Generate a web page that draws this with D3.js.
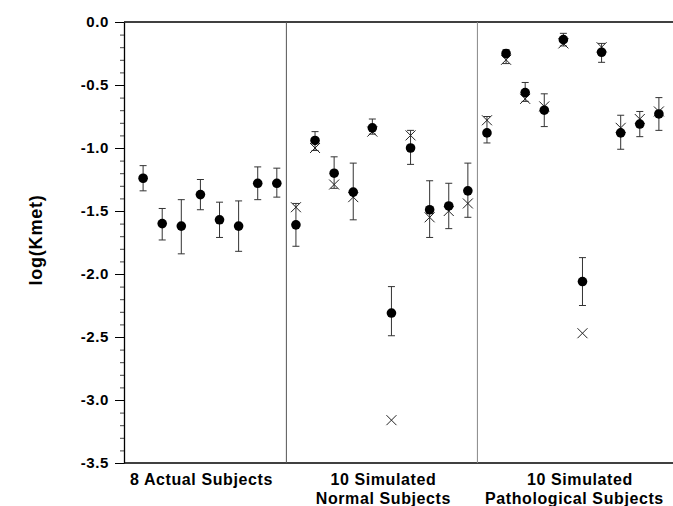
<!DOCTYPE html>
<html>
<head>
<meta charset="utf-8">
<script src="https://cdn.jsdelivr.net/npm/d3@7"></script>
<style>
  body { margin: 0; background: #fff; }
  svg text { font-family: "Liberation Sans", Arial, Helvetica, sans-serif; font-weight: bold; fill: #000; }
</style>
</head>
<body>
<div id="chart"></div>
<script>
// estimated log(Kmet) with error bars (circles) and true values (crosses)
const actualMean = [-1.24, -1.60, -1.62, -1.37, -1.57, -1.62, -1.28, -1.28];
const actualHi   = [-1.14, -1.48, -1.41, -1.25, -1.43, -1.42, -1.15, -1.16];
const actualLo   = [-1.34, -1.73, -1.84, -1.49, -1.71, -1.82, -1.41, -1.39];

const normalMean = [-1.61, -0.94, -1.20, -1.35, -0.84, -2.31, -1.00, -1.49, -1.46, -1.34];
const normalTrue = [-1.47, -1.00, -1.29, -1.39, -0.87, -3.16, -0.90, -1.55, -1.50, -1.44];
const normalHi   = [-1.44, -0.87, -1.07, -1.12, -0.77, -2.10, -0.86, -1.26, -1.28, -1.12];
const normalLo   = [-1.78, -1.02, -1.32, -1.57, -0.89, -2.49, -1.13, -1.71, -1.64, -1.55];

const pathMean = [-0.88, -0.25, -0.56, -0.70, -0.14, -2.06, -0.24, -0.88, -0.81, -0.73];
const pathTrue = [-0.78, -0.30, -0.61, -0.67, -0.17, -2.47, -0.20, -0.84, -0.77, -0.71];
const pathHi   = [-0.75, -0.22, -0.48, -0.57, -0.09, -1.87, -0.17, -0.74, -0.71, -0.60];
const pathLo   = [-0.96, -0.33, -0.63, -0.83, -0.19, -2.25, -0.32, -1.01, -0.91, -0.86];

const groupLabels = [
  ["8 Actual Subjects"],
  ["10 Simulated", "Normal Subjects"],
  ["10 Simulated", "Pathological Subjects"]
];
const yTicks = [0, -0.5, -1, -1.5, -2, -2.5, -3, -3.5];

const width = 673, height = 506;
const mLeft = 124, mTop = 22, mBottom = 463;

// flatten into one list of points
let points = [];
function addGroup(g, mean, hi, lo, truth) {
  mean.forEach((m, i) => {
    points.push({ id: points.length, group: g, mean: m, hi: hi[i], lo: lo[i], truth: truth ? truth[i] : null });
  });
}
addGroup(0, actualMean, actualHi, actualLo, null);
addGroup(1, normalMean, normalHi, normalLo, normalTrue);
addGroup(2, pathMean, pathHi, pathLo, pathTrue);

const svg = d3.select('#chart').append('svg')
    .attr('width', width)
    .attr('height', height);

const x = d3.scalePoint()
    .domain(points.map((d) => d.id))
    .range([mLeft, 678])
    .padding(1);

const y = d3.scaleLinear()
    .domain([-3.5, 0])
    .range([mBottom, mTop]);

// minor ticks
svg.append('g')
    .attr('transform', `translate(${mLeft},0)`)
    .call(d3.axisLeft(y).tickValues(d3.range(-35, 1).map((v) => v / 10)).tickSize(4).tickFormat(''))
    .call((g) => g.select('.domain').remove())
    .selectAll('line').attr('stroke', '#444');

// major axis
let yAxis = svg.append('g')
    .attr('transform', `translate(${mLeft},0)`)
    .call(d3.axisLeft(y).tickValues(yTicks).tickSize(9).tickPadding(6).tickFormat((d) => d.toFixed(1)).tickSizeOuter(0));
yAxis.selectAll('text')
    .style('font-size', '15px')
    .style('font-weight', 'bold')
    .attr('letter-spacing', '0.6');
yAxis.select('.domain').attr('stroke-width', 1.3);

// frame top and bottom
svg.append('line')
    .attr('x1', mLeft).attr('x2', width)
    .attr('y1', y(0)).attr('y2', y(0))
    .attr('stroke', '#000').attr('stroke-width', 1.6);
svg.append('line')
    .attr('x1', mLeft).attr('x2', width)
    .attr('y1', y(-3.5)).attr('y2', y(-3.5))
    .attr('stroke', '#000').attr('stroke-width', 1.6);

// group separators
const sep = [7.5, 17.5].map((v) => (x(Math.floor(v)) + x(Math.ceil(v))) / 2);
svg.selectAll('.sep')
    .data(sep)
    .enter()
    .append('line')
    .attr('class', 'sep')
    .attr('x1', (d) => d).attr('x2', (d) => d)
    .attr('y1', y(0)).attr('y2', y(-3.5))
    .attr('stroke', (d, i) => i === 0 ? '#555' : '#888')
    .attr('stroke-width', 1);

// error bars
const cap = 3.5;
let eb = svg.append('g').attr('stroke', '#333').attr('stroke-width', 1)
    .selectAll('g')
    .data(points)
    .enter()
    .append('g');
eb.append('line')
    .attr('x1', (d) => x(d.id)).attr('x2', (d) => x(d.id))
    .attr('y1', (d) => y(d.hi)).attr('y2', (d) => y(d.lo));
eb.append('line')
    .attr('x1', (d) => x(d.id) - cap).attr('x2', (d) => x(d.id) + cap)
    .attr('y1', (d) => y(d.hi)).attr('y2', (d) => y(d.hi));
eb.append('line')
    .attr('x1', (d) => x(d.id) - cap).attr('x2', (d) => x(d.id) + cap)
    .attr('y1', (d) => y(d.lo)).attr('y2', (d) => y(d.lo));

// crosses (true values)
const s = 5;
svg.append('g')
    .selectAll('path')
    .data(points.filter((d) => d.truth !== null))
    .enter()
    .append('path')
    .attr('d', (d) => {
      let cx = x(d.id), cy = y(d.truth);
      return `M${cx - s},${cy - s}L${cx + s},${cy + s}M${cx - s},${cy + s}L${cx + s},${cy - s}`;
    })
    .attr('stroke', '#222')
    .attr('stroke-width', 1)
    .attr('fill', 'none');

// circles (estimates)
svg.append('g')
    .selectAll('circle')
    .data(points)
    .enter()
    .append('circle')
    .attr('cx', (d) => x(d.id))
    .attr('cy', (d) => y(d.mean))
    .attr('r', 4.8)
    .attr('fill', '#000');

// group labels under the axis
const labelDx = [[-8.5], [1.5, 1.5], [7, 1.5]];
groupLabels.forEach((lines, g) => {
  let ids = points.filter((d) => d.group === g).map((d) => x(d.id));
  let mid = (d3.min(ids) + d3.max(ids)) / 2;
  lines.forEach((t, i) => {
    svg.append('text')
        .attr('x', mid + labelDx[g][i])
        .attr('y', 485 + i * 18.5)
        .attr('text-anchor', 'middle')
        .attr('letter-spacing', '0.6')
        .style('font-size', '16px')
        .text(t);
  });
});

// y axis title
svg.append('text')
    .attr('transform', `translate(42,240) rotate(-90)`)
    .attr('text-anchor', 'middle')
    .attr('letter-spacing', '0.8')
    .style('font-size', '18px')
    .text('log(Kmet)');
</script>
</body>
</html>
